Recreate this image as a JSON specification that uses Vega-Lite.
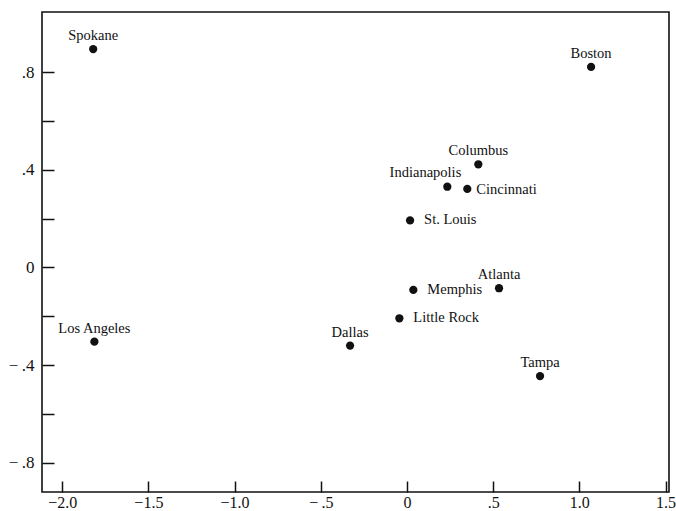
{
  "$schema": "https://vega.github.io/schema/vega-lite/v6.json",
  "width": 627,
  "height": 480,
  "autosize": {"type": "none"},
  "padding": {"left": 42, "top": 12, "right": 7, "bottom": 19},
  "background": "white",
  "config": {
    "view": {"stroke": "#111", "strokeWidth": 1.6},
    "axis": {
      "grid": false,
      "domain": false,
      "title": null,
      "labelFont": "Liberation Serif",
      "labelFontSize": 17,
      "labelColor": "#111",
      "tickColor": "#111",
      "tickWidth": 1.5
    },
    "text": {"font": "Liberation Serif", "fontSize": 14.5, "color": "#111"}
  },
  "data": {
    "values": [
      {"city": "Spokane", "x": -1.82, "y": 0.895},
      {"city": "Boston", "x": 1.068, "y": 0.822},
      {"city": "Columbus", "x": 0.414, "y": 0.423},
      {"city": "Indianapolis", "x": 0.234, "y": 0.331},
      {"city": "Cincinnati", "x": 0.35, "y": 0.322},
      {"city": "St. Louis", "x": 0.018, "y": 0.193},
      {"city": "Memphis", "x": 0.037, "y": -0.092},
      {"city": "Atlanta", "x": 0.534, "y": -0.085},
      {"city": "Little Rock", "x": -0.044, "y": -0.208},
      {"city": "Dallas", "x": -0.33, "y": -0.32},
      {"city": "Tampa", "x": 0.772, "y": -0.445},
      {"city": "Los Angeles", "x": -1.813, "y": -0.304}
    ]
  },
  "encoding": {
    "x": {
      "field": "x",
      "type": "quantitative",
      "scale": {"domain": [-2.117, 1.52], "nice": false, "zero": false},
      "axis": {
        "values": [-2, -1.5, -1, -0.5, 0, 0.5, 1, 1.5],
        "tickSize": -11,
        "labelPadding": 13,
        "labelFontSize": 16,
        "labelExpr": "datum.value == -0.5 ? '−\u2009.5' : datum.value == 0.5 ? '.5' : datum.value == 0 ? '0' : replace(format(datum.value, '.1f'), '-', '−\u2009')"
      }
    },
    "y": {
      "field": "y",
      "type": "quantitative",
      "scale": {"domain": [-0.92, 1.047], "nice": false, "zero": false},
      "axis": {
        "values": [-0.8, -0.6, -0.4, -0.2, 0, 0.2, 0.4, 0.6, 0.8],
        "tickSize": -12,
        "labelPadding": 20,
        "labelExpr": "round(datum.value*10) % 4 == 0 ? (datum.value == 0 ? '0' : (datum.value < 0 ? '−\u2009' : '') + '.' + abs(round(datum.value*10))) : ''"
      }
    }
  },
  "layer": [
    {"mark": {"type": "circle", "size": 68, "color": "#111", "opacity": 1}},
    {
      "transform": [{"filter": {"field": "city", "oneOf": ["Spokane", "Boston", "Columbus", "Atlanta", "Dallas", "Tampa", "Los Angeles"]}}],
      "mark": {"type": "text", "align": "center", "baseline": "alphabetic", "dy": -9},
      "encoding": {"text": {"field": "city"}}
    },
    {
      "transform": [{"filter": {"field": "city", "oneOf": ["St. Louis", "Memphis", "Little Rock"]}}],
      "mark": {"type": "text", "align": "left", "baseline": "middle", "dx": 14},
      "encoding": {"text": {"field": "city"}}
    },
    {
      "transform": [{"filter": {"field": "city", "equal": "Cincinnati"}}],
      "mark": {"type": "text", "align": "left", "baseline": "middle", "dx": 9, "dy": 1},
      "encoding": {"text": {"field": "city"}}
    },
    {
      "transform": [{"filter": {"field": "city", "equal": "Indianapolis"}}],
      "mark": {"type": "text", "align": "right", "baseline": "alphabetic", "dx": 14, "dy": -10},
      "encoding": {"text": {"field": "city"}}
    }
  ]
}
